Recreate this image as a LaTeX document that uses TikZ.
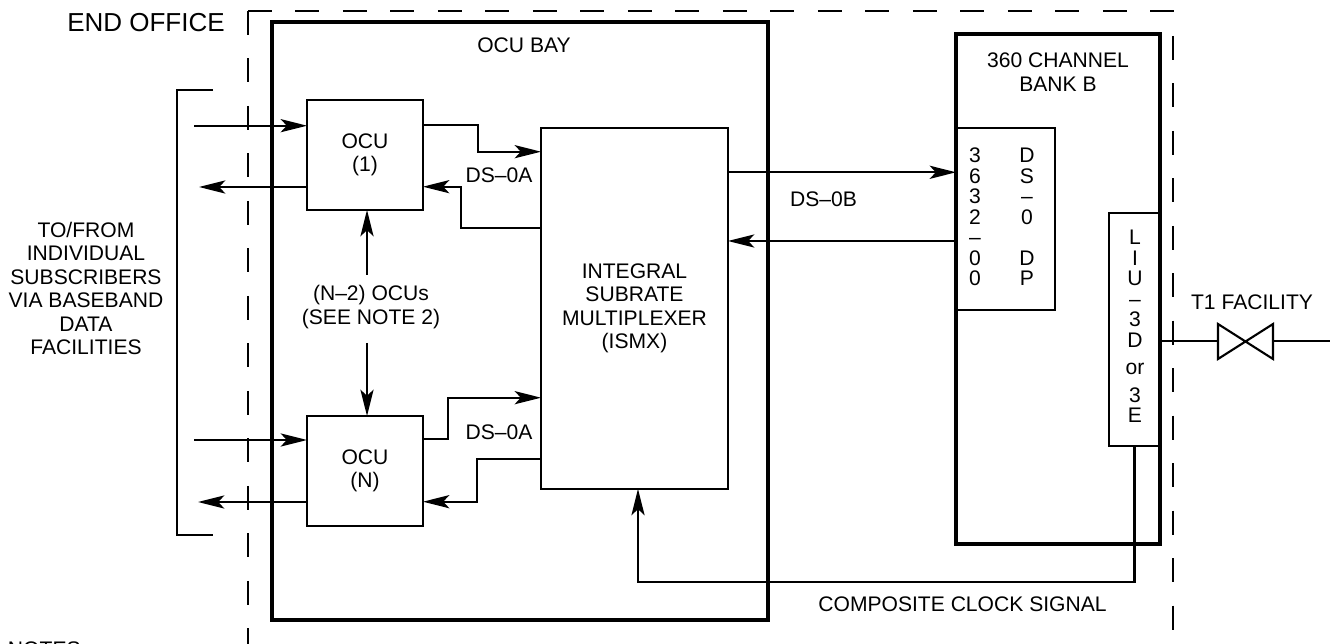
\documentclass[tikz,border=0pt]{standalone}
\usepackage{fontspec}
\setmainfont{Liberation Sans}
\usepackage{tikz}
\usetikzlibrary{arrows.meta,positioning,calc}

\tikzset{
  txt/.style={inner sep=0pt, outer sep=0pt, align=center, font=\fontsize{12}{13.4}\selectfont},
  col/.style={inner sep=0pt, outer sep=0pt, align=center, font=\fontsize{12}{11.7}\selectfont},
  box/.style={draw, line width=1.2pt, txt, anchor=north west},
  bigbox/.style={draw, line width=2.4pt, txt, anchor=north west},
  wire/.style={line width=1.2pt},
  sig/.style={wire, -{Stealth[length=15pt,width=7.5pt,inset=3.5pt]}},
  office/.style={line width=1.1pt, dash pattern=on 0.48cm off 0.47cm},
}

\begin{document}
\begin{tikzpicture}[x=0.02cm,y=-0.02cm]
    \useasboundingbox (0,0) rectangle (1334,644);

    % end office
    \draw[office] (248,11) -- (248,660);
    \draw[office] (248,11) -- (1173,11) -- (1173,660);
    \node [txt, font=\fontsize{14.8}{16}\selectfont] (endoffice) at (146,23) {END OFFICE};

    \node [bigbox, minimum width=9.92cm, minimum height=11.96cm] (bay) at (272,22) {};
    \node [txt] (baytext) at (524,45) {OCU BAY};

    \node [box, minimum width=2.32cm, minimum height=2.2cm] (ocu1) at (307,100) {OCU\\(1)};
    \node [box, minimum width=2.32cm, minimum height=2.2cm] (ocun) at (307,416) {OCU\\(N)};
    \node [box, minimum width=3.74cm, minimum height=7.22cm] (ismx) at (541,128)
        {INTEGRAL\\SUBRATE\\MULTIPLEXER\\(ISMX)};

    \node [bigbox, minimum width=4.08cm, minimum height=10.2cm] (bank) at (956,34) {};
    \node [txt] (banktext) at (1058,72) {360 CHANNEL\\BANK B};
    \node [box, minimum width=1.98cm, minimum height=3.64cm] (chan) at (956,128) {};
    \node [col] (chanl) at (975,217) {3\\6\\3\\2\\–\\0\\0};
    \node [col] (chanr) at (1027,217) {D\\S\\–\\0\\\mbox{}\\D\\P};
    \node [box, minimum width=1.02cm, minimum height=4.66cm] (liu) at (1109,213) {};
    \node [col] (liutext) at (1135,326.5) {L\\I\\U\\–\\3\\D\\[3.7pt]or\\[4.2pt]3\\E};

    % subscribers
    \draw[wire] (213,90) -- (177,90) -- (177,535) -- (213,535);
    \node [txt] (subs) at (86,288.5)
        {TO/FROM\\INDIVIDUAL\\SUBSCRIBERS\\VIA BASEBAND\\DATA\\FACILITIES};
    \coordinate (in1) at (194,125.7);
    \coordinate (out1) at (199,187);
    \coordinate (inn) at (194,440);
    \coordinate (outn) at (198,502);
    \draw[sig] (in1) -- (ocu1.west |- in1);
    \draw[sig] (ocu1.west |- out1) -- (out1);
    \draw[sig] (inn) -- (ocun.west |- inn);
    \draw[sig] (ocun.west |- outn) -- (outn);

    % ocu <-> ismx
    \draw[sig] (ocu1.east |- 0,125) -| (478,151.7) -- (ismx.west |- 0,151.7);
    \draw[sig] (ismx.west |- 0,228) -| (461,186.7) -- (ocu1.east |- 0,186.7);
    \draw[sig] (ocun.east |- 0,439) -| (448,397.7) -- (ismx.west |- 0,397.7);
    \draw[sig] (ismx.west |- 0,459) -| (476.7,501.7) -- (ocun.east |- 0,501.7);
    \node [txt] (ds0a1) at (499,175) {DS–0A};
    \node [txt] (ds0a2) at (499,432) {DS–0A};

    \node [txt] (others) at (371,307) {(N–2) OCUs\\(SEE NOTE 2)};
    \coordinate (n2top) at (367,275);
    \coordinate (n2bot) at (367,343);
    \draw[sig] (n2top) -- (ocu1.south -| n2top);
    \draw[sig] (n2bot) -- (ocun.north -| n2bot);

    % ismx <-> channel bank
    \draw[sig] (ismx.east |- 0,172.3) -- (chan.west |- 0,172.3);
    \draw[sig] (chan.west |- 0,241) -- (ismx.east |- 0,241);
    \node [txt] (ds0b) at (823.5,199) {DS–0B};

    % clock
    \draw[sig] (liu.south) |- (638,581.7) -- (ismx.south -| 638,0);
    \node [txt] (clock) at (962.5,604.5) {COMPOSITE CLOCK SIGNAL};

    % t1
    \coordinate (t1l) at (1218,341);
    \coordinate (t1r) at (1273,341);
    \coordinate (t1end) at (1330,341);
    \draw[wire] (bank.east |- t1l) -- (t1l);
    \draw[wire] (1218,324) -- (1273,359) -- (1273,324) -- (1218,359) -- cycle;
    \draw[wire] (t1r) -- (t1end);
    \node [txt] (t1) at (1252,302.5) {T1 FACILITY};

    \node [txt, anchor=north west] (notes) at (8,641.5) {NOTES:};
\end{tikzpicture}
\end{document}
